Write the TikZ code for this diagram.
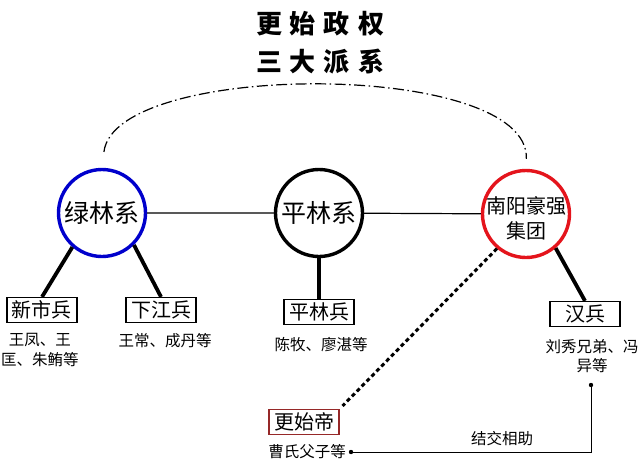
\documentclass[tikz,border=0pt]{standalone}
\usepackage{fontspec}
\setmainfont{Noto Sans CJK SC}
\begin{document}
\begin{tikzpicture}[x=1pt, y=-1pt,
  bloc/.style={circle, draw=#1, line width=3.4pt, minimum size=87pt, inner sep=0pt},
  blocname/.style={font=\fontsize{25}{30}\selectfont, align=center},
  army/.style={draw, line width=1.2pt, minimum width=70pt, minimum height=25pt, inner sep=0pt, font=\fontsize{20}{24}\selectfont},
  names/.style={align=center, font=\fontsize{15.5}{19.5}\selectfont},
  link/.style={line width=3.8pt}]
\useasboundingbox (0,0) rectangle (640,464);
\definecolor{blocblue}{RGB}{0,0,204}
\definecolor{blocred}{RGB}{228,20,28}
\definecolor{emperor}{RGB}{150,40,40}
% title
\node[font=\fontsize{26}{30}\selectfont\bfseries] (title1) at (320,24) {更\hspace{8pt}始\hspace{8pt}政\hspace{8pt}权};
\node[font=\fontsize{26}{30}\selectfont\bfseries] (title2) at (320,62) {三\hspace{8pt}大\hspace{8pt}派\hspace{8pt}系};
% the three factions
\node[bloc=blocblue] (lvlin) at (102,213) {};
\node[blocname] at (lvlin) {绿林系};
\node[bloc=black] (pinglin) at (319,213) {};
\node[blocname] at (pinglin) {平林系};
\node[bloc=blocred] (nanyang) at (526,214) {};
\node[blocname, font=\fontsize{20}{25}\selectfont] at ([yshift=-4pt]nanyang) {南阳豪强\\集团};
\draw[line width=1.2pt] (lvlin) -- (pinglin) -- (nanyang);
\draw[line width=1.2pt, dash pattern=on 11pt off 3.5pt on 1.5pt off 3.5pt, shorten <=16pt, shorten >=10pt]
  (lvlin.north) .. controls (115,60) and (530,60) .. (nanyang.north);
% armies
\node[army] (xinshi) at (42,310) {新市兵};
\node[army] (xiajiang) at (161,310) {下江兵};
\node[army] (pinglinbing) at (319,312) {平林兵};
\node[army] (hanbing) at (585,314) {汉兵};
\node[army, draw=emperor, line width=1.5pt] (gengshi) at (304,422) {更始帝};
\draw[link] (lvlin.-131) -- (xinshi.north);
\draw[link] (lvlin.-45) -- (xiajiang.north);
\draw[link] (pinglin.south) -- (pinglinbing.north);
\draw[link] (nanyang.-49) -- (hanbing.north);
\draw[line width=3pt, dash pattern=on 4pt off 3pt, shorten >=4pt] (nanyang.-130) -- (gengshi.north east);
% leaders
\node[names] (xinshiren) at (40,350) {王凤、王\\匡、朱鲔等};
\node[names] (xiajiangren) at (165,341) {王常、成丹等};
\node[names] (pinglinren) at (321,345) {陈牧、廖湛等};
\node[names] (hanren) at (592,356) {刘秀兄弟、冯\\异等};
\node[names] (caoshi) at (307,452) {曹氏父子等};
\coordinate (caodot) at (351,452);
\coordinate (handot) at (591,385);
\draw[line width=1pt] (caodot) -| (handot);
\fill (caodot) circle (2.2pt) (handot) circle (2.2pt);
\node[names] (help) at (502,439) {结交相助};
\end{tikzpicture}
\end{document}
